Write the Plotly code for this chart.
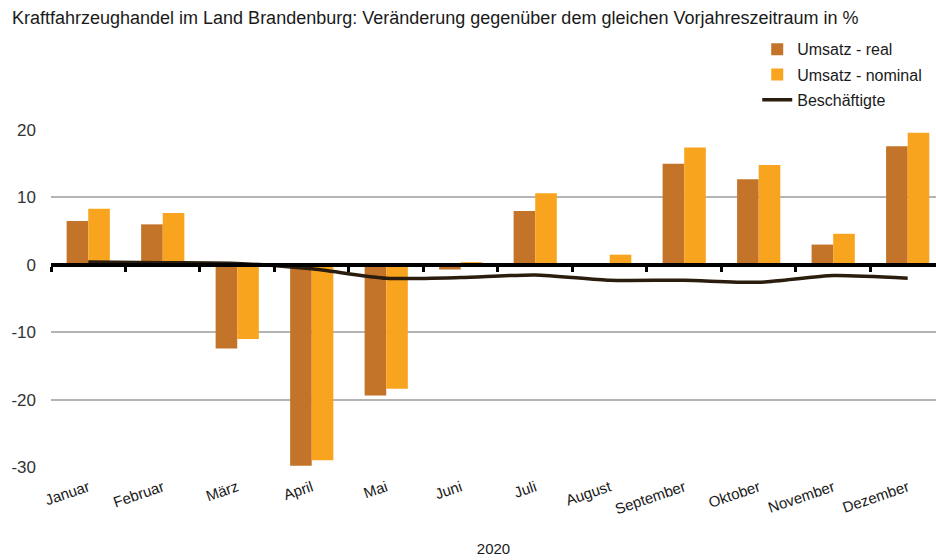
import plotly.graph_objects as go

months = ["Januar", "Februar", "März", "April", "Mai", "Juni", "Juli",
          "August", "September", "Oktober", "November", "Dezember"]
umsatz_real = [6.5, 6.0, -12.4, -29.8, -19.4, -0.7, 8.0, -0.3, 15.0, 12.7, 3.0, 17.6]
umsatz_nominal = [8.3, 7.7, -11.0, -29.0, -18.4, 0.4, 10.6, 1.5, 17.4, 14.8, 4.6, 19.6]
beschaeftigte = [0.4, 0.3, 0.2, -0.6, -2.0, -1.9, -1.5, -2.3, -2.3, -2.6, -1.6, -2.0]
y_ticks = [-30, -20, -10, 0, 10, 20]
y_ticktext = ["-30", "-20", "-10", "0", "10", "20"]

x_idx = list(range(len(months)))
boundaries = [i - 0.5 for i in range(len(months) + 1)]
xrange = [-0.5, 11.38]
FONT = "Liberation Sans, Arial, sans-serif"

fig = go.Figure()
fig.add_trace(go.Bar(x=x_idx, y=umsatz_real, name="Umsatz - real",
                     marker=dict(color="#C47428", line=dict(width=0)),
                     legendgroup="a"))
fig.add_trace(go.Bar(x=x_idx, y=umsatz_nominal, name="Umsatz - nominal",
                     marker=dict(color="#F9A41E", line=dict(width=0)),
                     legendgroup="b"))
fig.add_trace(go.Scatter(x=x_idx, y=beschaeftigte, name="Beschäftigte",
                         mode="lines", xaxis="x2",
                         line=dict(color="#2B1D0E", width=3.5, shape="spline", smoothing=0.6),
                         legendgroup="c"))

fig.update_layout(
    width=936, height=560,
    margin=dict(l=51, r=0, t=130, b=93, autoexpand=False),
    paper_bgcolor="white", plot_bgcolor="white",
    font=dict(family=FONT, size=15, color="#1a1a1a"),
    barmode="group", bargap=0.42, bargroupgap=0,
    title=dict(text="Kraftfahrzeughandel im Land Brandenburg: Veränderung gegenüber dem gleichen Vorjahreszeitraum in %",
               xref="container", yref="container", x=0.0128, xanchor="left",
               y=0.968, yanchor="middle", font=dict(size=18, color="#1a1a1a")),
    legend=dict(x=0.798, xanchor="left", y=1.29, yanchor="top",
                font=dict(size=16), tracegroupgap=1.5, bgcolor="rgba(0,0,0,0)"),
    xaxis=dict(range=xrange, tickmode="array", tickvals=x_idx, ticktext=months,
               tickangle=-19, showgrid=False, showline=False, ticks="",
               zeroline=False, ticklabelstandoff=8, automargin=False,
               tickfont=dict(size=15, color="#1a1a1a"),
               title=dict(text="2020", font=dict(size=15), standoff=27)),
    xaxis2=dict(range=xrange, overlaying="x", anchor="free", position=0.6,
                showline=True, linecolor="black", linewidth=4,
                ticks="outside", ticklen=5, tickwidth=3, tickcolor="black",
                tickmode="array", tickvals=boundaries, showticklabels=False,
                showgrid=False, zeroline=False, layer="above traces", automargin=False),
    yaxis=dict(range=[-30, 20], tickmode="array", tickvals=y_ticks, ticktext=y_ticktext,
               showgrid=True, gridcolor="#B4B4B4", gridwidth=1.5, zeroline=False,
               showline=False, ticks="", ticklabelstandoff=14, automargin=False,
               tickfont=dict(size=17, color="#333333")),
)

fig.write_html("out.html", config={"displayModeBar": False},
               post_script="document.body.style.margin='0';")
